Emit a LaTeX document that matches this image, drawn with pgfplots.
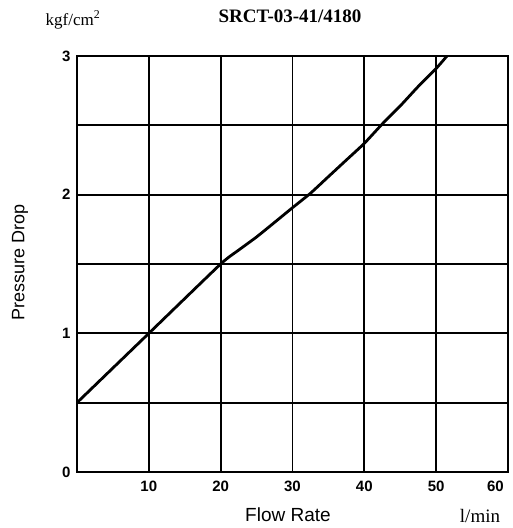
\documentclass[border=0pt]{standalone}
\usepackage{fontspec}
\setmainfont{Liberation Sans}
\newfontfamily\seriffont{Liberation Serif}
\usepackage{pgfplots}
\pgfplotsset{compat=1.18}
\begin{document}
\begin{tikzpicture}[x=1pt,y=1pt]
\begin{axis}[
  at={(77pt,56pt)}, anchor=south west,
  scale only axis, width=431pt, height=416pt,
  xmin=0, xmax=60, ymin=0, ymax=3,
  xtick={10,20,30,40,50,60}, ytick={0,1,2,3},
  xticklabels={10,20,30,40,50,\llap{60}\hphantom{0}},
  minor ytick={0.5,1.5,2.5},
  grid=both,
  major grid style={black, line width=1.8pt},
  minor grid style={black, line width=1.8pt},
  major tick length=0pt, minor tick length=0pt,
  axis line style={black, line width=1.8pt},
  tick label style={font=\fontsize{15}{15}\selectfont\bfseries},
  /pgf/number format/assume math mode=true,
  xticklabel style={yshift=-5pt},
  yticklabel style={xshift=-3pt},
  clip=true,
]
\addplot[black, line width=2.8pt, smooth, tension=0.3] coordinates {
 (0,0.5) (10,1.0) (20,1.5) (22.5,1.6) (25,1.695) (27.5,1.80) (30,1.906) (32.5,2.01) (35,2.13) (37.5,2.25) (40,2.37) (42.5,2.51) (45,2.64) (47.5,2.78) (50,2.91) (52,3.03)
};
\draw[black, line width=2.8pt] (rel axis cs:0,1) -- (rel axis cs:0,0) -- (rel axis cs:1,0);
\end{axis}
\node at (290,512) {\seriffont\bfseries\fontsize{19}{19}\selectfont SRCT-03-41/4180};
\node at (73,508) {\seriffont\fontsize{17}{17}\selectfont kgf/cm\textsuperscript{2}};
\node[rotate=90] at (20,266) {\fontsize{18}{18}\selectfont Pressure Drop};
\node at (288,13) {\fontsize{19}{19}\selectfont Flow Rate};
\node at (480,12) {\seriffont\fontsize{19}{19}\selectfont l/min};
\pgfresetboundingbox
\path[use as bounding box] (0,0) rectangle (513,528);
\end{tikzpicture}
\end{document}
